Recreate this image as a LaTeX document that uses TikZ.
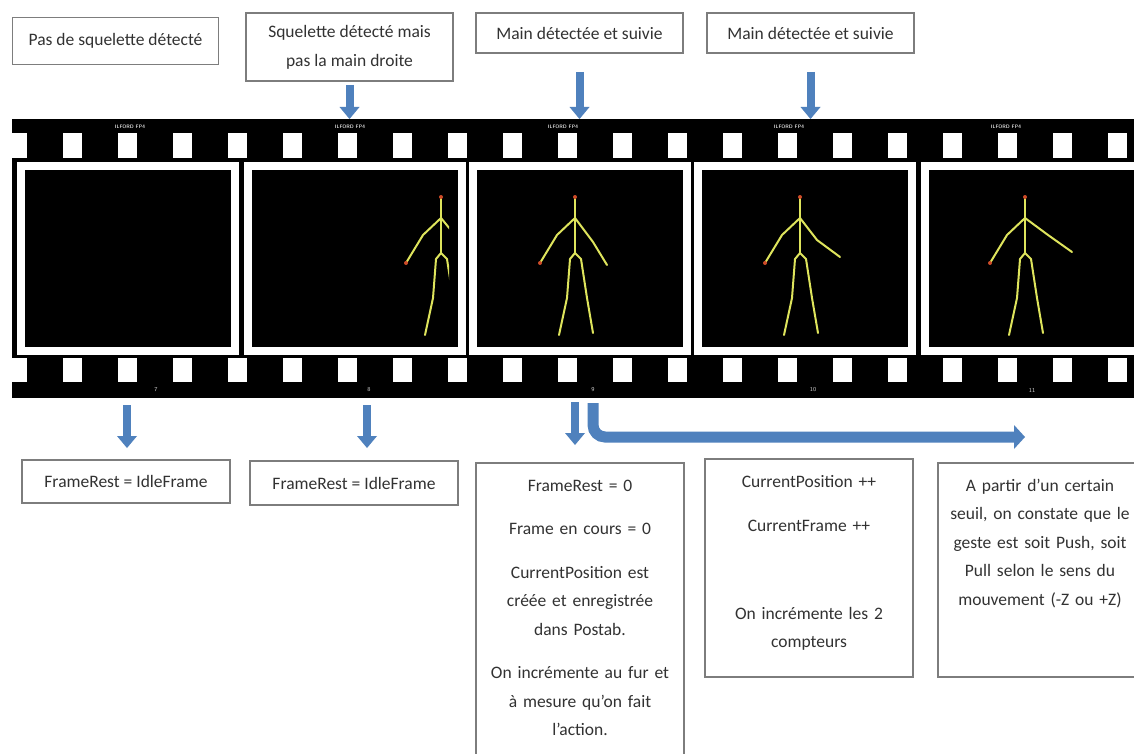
\documentclass[tikz,border=0pt]{standalone}
\usepackage{fontspec}
\setmainfont{Carlito}
\usetikzlibrary{arrows.meta,positioning}
\definecolor{arrowblue}{RGB}{79,129,189}
\definecolor{boxline}{RGB}{125,125,125}
\definecolor{boxtext}{RGB}{50,50,50}
\definecolor{limb}{RGB}{222,228,92}
\definecolor{joint}{RGB}{205,75,40}
\tikzset{
  note/.style={draw=boxline, line width=1.2pt, text=boxtext, align=center, inner sep=0pt, outer sep=0pt, font=\fontsize{17.5}{29}\selectfont},
  panel/.style={note, anchor=north, text width=#1, text height=28pt, font=\fontsize{17.5}{28.5}\selectfont},
  strip/.style={fill=black, inner sep=0pt, outer sep=0pt},
  filmframe/.style={draw=white, fill=black, line width=8pt, minimum width=214pt, minimum height=185pt, inner sep=0pt},
  brand/.style={text=white!85!black, font=\fontsize{5}{5}\sffamily\bfseries},
  num/.style={text=white!80!black, font=\fontsize{6}{6}\sffamily},
  bones/.style={draw=limb, line width=2pt, line cap=round, line join=round},
  blockarrow/.style={arrowblue, line width=8pt, -{Triangle[width=20pt, length=12pt, line width=0pt]}},
  bentarrow/.style={arrowblue, line width=11pt, rounded corners=12pt, -{Triangle[width=24pt, length=11pt, line width=0pt]}}
}
% #1 = shoulder x, #2 = right elbow, #3 = right hand
\newcommand{\stickman}[3]{%
  \begin{scope}[shift={(#1,218)}]
    \draw[bones] (0,-21) -- (0,35);
    \draw[bones] (-35,45) -- (-18,17) -- (0,0) -- #2 -- #3;
    \draw[bones] (-16,117) -- (-8,80) -- (-5,41) -- (0,35) -- (6,41) -- (12,80) -- (18,115);
    \fill[joint] (0,-21) circle (2pt);
    \fill[joint] (-35,45) circle (2pt);
  \end{scope}}

\begin{document}
\begin{tikzpicture}[x=1pt, y=-1pt]
  \clip (0,0) rectangle (1134,754);
  \fill[white] (0,0) rectangle (1134,754);

  % film strip
  \node[strip, minimum width=1130pt, minimum height=279pt] (strip) at (577,258.5) {};
  \foreach \k in {0,...,20} {
    \fill[white] ({8+55*\k},133) rectangle +(19,25);
    \fill[white] ({8+55*\k},358) rectangle +(19,24);
  }
  \foreach \x/\n in {128/7, 354.5/8, 579.5/9, 805/10, 1032/11}
    \node[filmframe] (f\n) at (\x,258.5) {};
  \foreach \x/\n in {130/7, 350/8, 563/9, 789/10, 1006/11}
    \node[brand] (brand\n) at (\x,127) {ILFORD FP4};
  \foreach \x/\n in {156/7, 369/8, 593/9, 813/10, 1032/11}
    \node[num] (num\n) at (\x,390) {\n};

  \begin{scope}
    \clip (254,170) rectangle (449,348);
    \stickman{441}{(18,22)}{(32,47)}
  \end{scope}
  \stickman{575}{(18,24)}{(32,47)}
  \stickman{800}{(17,22)}{(40,39)}
  \stickman{1025}{(23,17)}{(47,34)}

  % states above the strip
  \node[note, minimum width=206pt, minimum height=47pt] (lbl7) at (115.5,41) {Pas de squelette détecté};
  \node[note, minimum width=207pt, minimum height=68pt] (lbl8) at (349.5,47) {Squelette détecté mais\\pas la main droite};
  \node[note, minimum width=207pt, minimum height=40pt] (lbl9) at (579.5,33) {Main détectée et suivie};
  \node[note, minimum width=207pt, minimum height=40pt] (lbl10) at (810.5,33) {Main détectée et suivie};

  % actions below the strip
  \node[note, minimum width=208pt, minimum height=43pt] (res7) at (126,481.5) {FrameRest = IdleFrame};
  \node[note, minimum width=208pt, minimum height=44pt] (res8) at (354,483) {FrameRest = IdleFrame};
  \node[panel=208pt, text depth=290pt] (res9) at (580,463) {FrameRest = 0\\[15pt]
    Frame en cours = 0\\[15pt]
    CurrentPosition est\\créée et enregistrée\\dans Postab.\\[15pt]
    On incrémente au fur et\\à mesure qu’on fait\\l’action.};
  \node[panel=208pt, text depth=190pt] (res10) at (809,459) {CurrentPosition ++\\[16pt]
    CurrentFrame ++\\[59pt]
    On incrémente les 2\\compteurs};
  \node[panel=204pt, text depth=186pt] (res11) at (1040,463) {A partir d’un certain\\seuil, on constate que le\\geste est soit Push, soit\\Pull selon le sens du\\mouvement (-Z ou +Z)};

  \coordinate (tap7) at (127,398);
  \coordinate (tap8) at (367,398);
  \coordinate (tap9) at (575,398);
  \coordinate (tap9b) at (593,398);
  \coordinate (push) at (1025,437);

  \draw[blockarrow, shorten <=4pt] (lbl8) -- (lbl8 |- strip.north);
  \draw[blockarrow, shorten <=19pt] (lbl9) -- (lbl9 |- strip.north);
  \draw[blockarrow, shorten <=19pt] (lbl10) -- (lbl10 |- strip.north);
  \draw[blockarrow, shorten <=7pt, shorten >=12pt] (tap7) -- (tap7 |- res7.north);
  \draw[blockarrow, shorten <=7pt, shorten >=13pt] (tap8) -- (tap8 |- res8.north);
  \draw[blockarrow, shorten <=4pt, shorten >=18pt] (tap9) -- (tap9 |- res9.north);
  \draw[bentarrow, shorten <=5pt] (tap9b) |- (push);
\end{tikzpicture}
\end{document}
